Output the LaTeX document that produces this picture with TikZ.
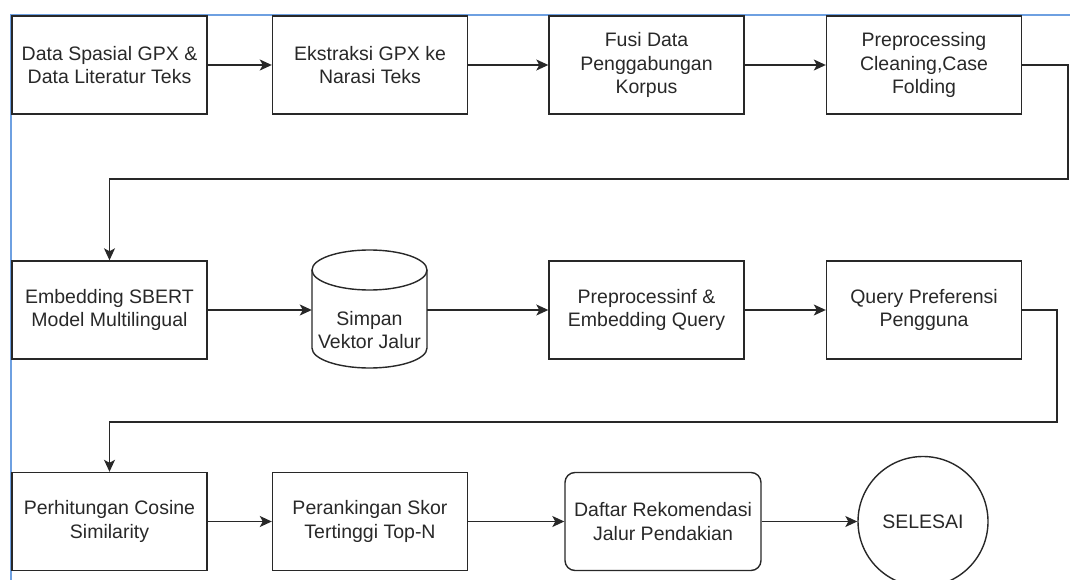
\documentclass[tikz,border=0pt]{standalone}
\usepackage{fontspec}
\setmainfont{Liberation Sans}
\usetikzlibrary{arrows.meta}
\definecolor{selblue}{RGB}{110,160,225}
\definecolor{ink}{RGB}{40,40,40}
\tikzset{
	proc/.style={draw=ink, line width=1.4pt, rectangle, minimum width=195pt, minimum height=98pt, align=center, text=ink, font=\fontsize{19.5}{23.5}\selectfont, inner sep=0pt},
	flow/.style={draw=ink, line width=1.4pt, -{Stealth[length=12pt,width=11pt,inset=3pt]}}
}

\begin{document}
\begin{tikzpicture}[x=1pt,y=-1pt]
			%%%%% START %%%%%
			\useasboundingbox (0,0) rectangle (1070,580);
			
			\draw[selblue, line width=1.5pt] (11,580) -- (11,15) -- (1070,15);
			
			% row 1
			\node[proc] (data) at (109.5,65) {Data Spasial GPX \&\\Data Literatur Teks};
			\node[proc] (ekstraksi) at (370,65) {Ekstraksi GPX ke\\Narasi Teks};
			\node[proc] (fusi) at (646.5,65) {Fusi Data\\Penggabungan\\Korpus};
			\node[proc] (prepro) at (924,65) {Preprocessing\\Cleaning,Case\\Folding};
			
			% row 2
			\node[proc] (embed) at (109.5,310) {Embedding SBERT\\Model Multilingual};
			\node[minimum width=115pt, minimum height=118pt, inner sep=0pt] (simpan) at (369.5,309) {};
			\draw[ink, line width=1.4pt] (312,270) -- (312,348) arc[start angle=180, end angle=0, x radius=57.5, y radius=20] -- (427,270);
			\draw[ink, line width=1.4pt] (369.5,270) ellipse[x radius=57.5, y radius=20];
			\node[align=center, text=ink, font=\fontsize{19.5}{23.5}\selectfont] (simpantxt) at (369.5,330) {Simpan\\Vektor Jalur};
			\node[proc] (queryemb) at (646.5,310) {Preprocessinf \&\\Embedding Query};
			\node[proc] (query) at (924,310) {Query Preferensi\\Pengguna};
			
			% row 3
			\node[proc] (cosine) at (109.5,521.5) {Perhitungan Cosine\\Similarity};
			\node[proc] (ranking) at (370,521.5) {Perankingan Skor\\Tertinggi Top-N};
			\node[proc, minimum width=196pt, rounded corners=10pt] (daftar) at (663,521.5) {Daftar Rekomendasi\\Jalur Pendakian};
			\node[draw=ink, line width=1.4pt, circle, minimum size=130pt, inner sep=0pt, text=ink, font=\fontsize{19.5}{23.5}\selectfont] (selesai) at (923,521.5) {SELESAI};
			
			\coordinate (turn1) at (1068,179);
			\coordinate (turn2) at (1057,422);
			
			\draw[flow] (data) -- (ekstraksi);
			\draw[flow] (ekstraksi) -- (fusi);
			\draw[flow] (fusi) -- (prepro);
			\draw[flow] (prepro.east) -| (turn1) -| (embed.north);
			\draw[flow] (embed.east) -- (simpan.west |- embed.east);
			\draw[flow] (simpan.east |- queryemb.west) -- (queryemb.west);
			\draw[flow] (queryemb) -- (query);
			\draw[flow] (query.east) -| (turn2) -| (cosine.north);
			\draw[flow] (cosine) -- (ranking);
			\draw[flow] (ranking) -- (daftar);
			\draw[flow] (daftar) -- (selesai);
			
			%%%%% END %%%%%
\end{tikzpicture}
\end{document}
